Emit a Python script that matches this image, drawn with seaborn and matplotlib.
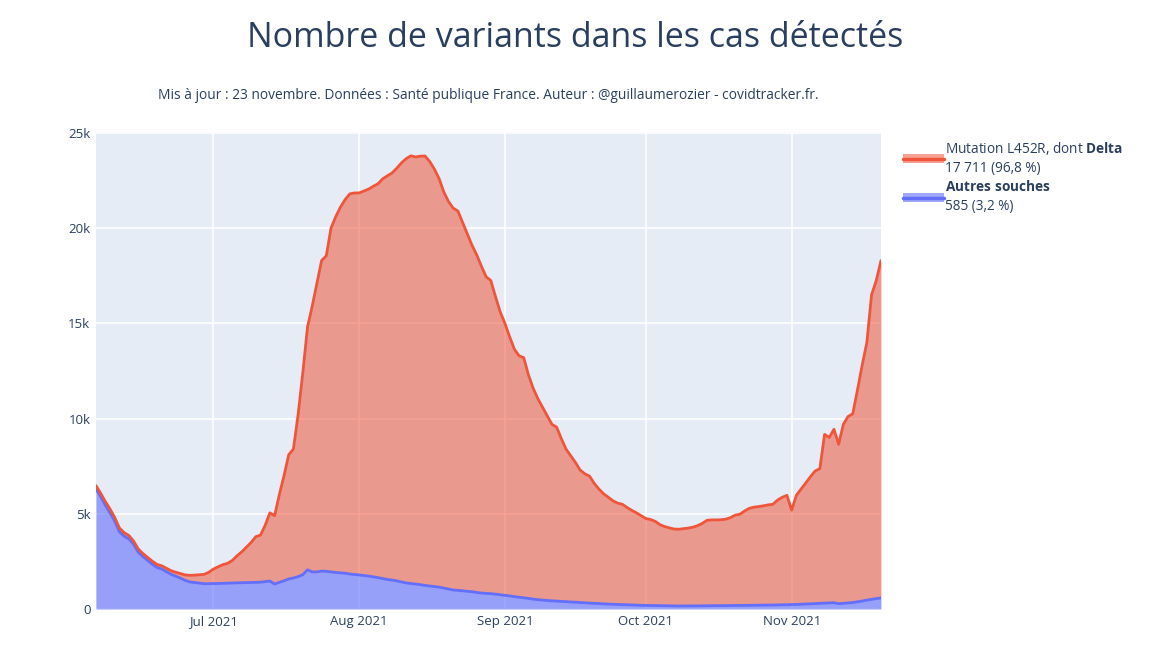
import pandas as pd
import matplotlib
matplotlib.use("Agg")
import matplotlib.pyplot as plt
import matplotlib.dates as mdates
from matplotlib.patches import Patch
from matplotlib.lines import Line2D
from matplotlib.legend_handler import HandlerTuple
import seaborn as sns

# données quotidiennes, du 6 juin au 20 novembre 2021
date_debut = "2021-06-06"

autres = [
    6300, 5900, 5450, 5050, 4600, 4050, 3820, 3680, 3400, 2980,
    2750, 2550, 2350, 2180, 2100, 1960, 1820, 1720, 1620, 1500,
    1420, 1390, 1360, 1330, 1330, 1340, 1340, 1350, 1360, 1370,
    1375, 1380, 1390, 1395, 1400, 1410, 1440, 1470, 1310, 1400,
    1480, 1580, 1630, 1700, 1800, 2060, 1950, 1950, 1990, 1980,
    1950, 1920, 1900, 1880, 1840, 1810, 1790, 1760, 1730, 1690,
    1650, 1600, 1550, 1520, 1480, 1420, 1370, 1340, 1310, 1280,
    1240, 1210, 1180, 1150, 1100, 1050, 1000, 980, 960, 930,
    910, 870, 840, 820, 810, 780, 750, 720, 690, 650,
    620, 590, 560, 520, 490, 470, 450, 430, 420, 400,
    390, 370, 360, 340, 330, 310, 300, 290, 270, 260,
    250, 240, 230, 220, 210, 200, 195, 190, 185, 180,
    175, 170, 165, 160, 160, 160, 160, 165, 165, 170,
    170, 175, 175, 180, 180, 185, 185, 190, 190, 195,
    200, 200, 205, 205, 210, 215, 220, 225, 230, 240,
    250, 260, 270, 285, 300, 310, 320, 330, 280, 300,
    320, 340, 380, 420, 470, 510, 550, 585,
]

delta = [
    180, 180, 190, 200, 200, 200, 190, 180, 170, 170,
    160, 160, 160, 160, 170, 180, 190, 210, 240, 290,
    350, 390, 440, 490, 600, 760, 880, 980, 1040, 1180,
    1420, 1620, 1860, 2100, 2400, 2470, 2960, 3580, 3590, 4600,
    5520, 6520, 6770, 8500, 10600, 12740, 13950, 15150, 16310, 16570,
    18050, 18680, 19200, 19620, 19960, 20040, 20060, 20190, 20320, 20510,
    20680, 20990, 21200, 21380, 21670, 22010, 22280, 22460, 22430, 22500,
    22550, 22290, 21920, 21450, 20800, 20350, 20050, 19920, 19340, 18770,
    18190, 17730, 17160, 16630, 16440, 15620, 14850, 14280, 13610, 13000,
    12680, 12610, 11740, 11080, 10560, 10130, 9700, 9270, 9130, 8550,
    8010, 7680, 7340, 6960, 6770, 6670, 6300, 6010, 5780, 5610,
    5430, 5320, 5270, 5110, 4970, 4850, 4705, 4560, 4515, 4420,
    4255, 4160, 4095, 4040, 4030, 4060, 4090, 4135, 4215, 4330,
    4490, 4505, 4505, 4510, 4540, 4615, 4745, 4790, 4960, 5095,
    5150, 5180, 5215, 5265, 5290, 5505, 5650, 5745, 4960, 5730,
    6050, 6360, 6680, 6965, 7070, 8860, 8690, 9110, 8370, 9400,
    9790, 9910, 11120, 12380, 13530, 15990, 16700, 17711,
]

label_delta = "Mutation L452R, dont $\\bf{Delta}$\n17 711 (96,8 %)"
label_autres = "$\\bf{Autres\\ souches}$\n585 (3,2 %)"
y_ticks = [0, 5000, 10000, 15000, 20000, 25000]
y_labels = ["0", "5k", "10k", "15k", "20k", "25k"]

df = pd.DataFrame({"autres": autres, "delta": delta})
df["date"] = pd.date_range(date_debut, periods=len(df), freq="D")
df["total"] = df["autres"] + df["delta"]

ROUGE = "#EF553B"
BLEU = "#636EFA"
TEXTE = "#2A3F5F"

sns.set_style("darkgrid", {"axes.facecolor": "#E5ECF6", "grid.color": "white"})
plt.rcParams["font.family"] = ["Open Sans", "DejaVu Sans"]
plt.rcParams["mathtext.fontset"] = "custom"
plt.rcParams["mathtext.rm"] = "Open Sans"
plt.rcParams["mathtext.bf"] = "Open Sans:bold"

fig = plt.figure(figsize=(11.69, 6.56), dpi=100)
ax = fig.add_axes([0.0821, 0.0716, 0.6715, 0.7272])

ax.fill_between(df["date"], 0, df["autres"], color=BLEU, alpha=0.6, lw=0)
ax.fill_between(df["date"], df["autres"], df["total"], color=ROUGE, alpha=0.55, lw=0)
sns.lineplot(data=df, x="date", y="autres", color=BLEU, lw=2, ax=ax)
sns.lineplot(data=df, x="date", y="total", color=ROUGE, lw=2, ax=ax)

ax.set_xlim(df["date"].iloc[0], df["date"].iloc[-1])
ax.set_ylim(0, 25050)
ax.set_yticks(y_ticks)
ax.set_yticklabels(y_labels)
ax.xaxis.set_major_locator(mdates.MonthLocator())
ax.xaxis.set_major_formatter(mdates.DateFormatter("%b %Y"))
ax.set_xlabel("")
ax.set_ylabel("")
ax.grid(True, color="white", lw=1.1)
ax.set_axisbelow(True)
for s in ax.spines.values():
    s.set_visible(False)
ax.tick_params(axis="both", length=0, labelsize=9.5, colors=TEXTE, pad=4)

h_delta = (Patch(facecolor=ROUGE, alpha=0.55, lw=0), Line2D([], [], color=ROUGE, lw=2.5))
h_autres = (Patch(facecolor=BLEU, alpha=0.6, lw=0), Line2D([], [], color=BLEU, lw=2.5))
leg = fig.legend(
    handles=[h_delta, h_autres], labels=[label_delta, label_autres],
    handler_map={tuple: HandlerTuple(ndivide=1)},
    loc="upper left", bbox_to_anchor=(0.762, 0.805), frameon=False,
    fontsize=9.8, handlelength=3.0, handleheight=0.6, handletextpad=0.05,
    labelspacing=0.3,
)
for t in leg.get_texts():
    t.set_color(TEXTE)
    t.set_linespacing(1.35)

fig.text(0.492, 0.942, "Nombre de variants dans les cas détectés",
         ha="center", va="center", fontsize=24.5, color=TEXTE)
fig.text(0.418, 0.855,
         "Mis à jour : 23 novembre. Données : Santé publique France. "
         "Auteur : @guillaumerozier - covidtracker.fr.",
         ha="center", va="center", fontsize=9.9, color=TEXTE)

fig.savefig("out.png", dpi=100, facecolor="white")
